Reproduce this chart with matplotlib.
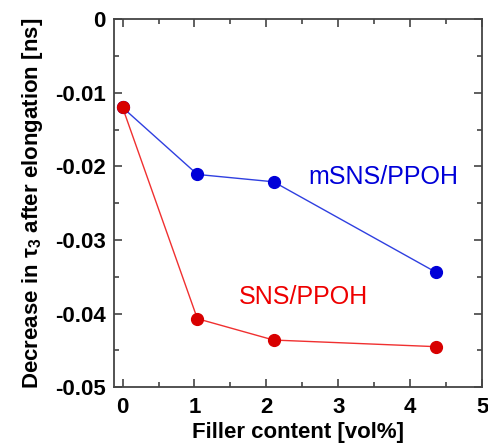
import matplotlib
matplotlib.use("Agg")
import matplotlib.pyplot as plt
from matplotlib.ticker import MultipleLocator, FuncFormatter

plt.rcParams['font.family'] = ['Liberation Sans', 'DejaVu Sans']
plt.rcParams['mathtext.fontset'] = 'custom'
plt.rcParams['mathtext.rm'] = 'Liberation Sans'
plt.rcParams['mathtext.bf'] = 'Liberation Sans:bold'

# data
filler = [0, 1.04, 2.1, 4.36]
msns = [-0.012, -0.0211, -0.0221, -0.0344]
sns = [-0.012, -0.0407, -0.0436, -0.0445]

fig = plt.figure(figsize=(4.89, 4.45), dpi=100)
ax = fig.add_axes([0.233, 0.130, 0.753, 0.827])

ax.plot(filler, msns, '-', color='#2f3fe0', lw=1.0, zorder=2)
ax.plot(filler, msns, 'o', color='#0000d8', ms=8.5, mec='#0000d8', zorder=3)
ax.plot(filler, sns, '-', color='#f03030', lw=1.0, zorder=2)
ax.plot(filler, sns, 'o', color='#d80000', ms=8.5, mec='#d80000', zorder=3)

ax.text(3.62, -0.0214, 'mSNS/PPOH', color='#0000d8', fontsize=18, ha='center', va='center')
ax.text(2.52, -0.0378, 'SNS/PPOH', color='#ee0000', fontsize=18, ha='center', va='center')

ax.set_xlim(-0.12, 5)
ax.set_ylim(-0.05, 0)
ax.xaxis.set_major_locator(MultipleLocator(1))
ax.xaxis.set_minor_locator(MultipleLocator(0.5))
ax.yaxis.set_major_locator(MultipleLocator(0.01))
ax.yaxis.set_minor_locator(MultipleLocator(0.005))
ax.yaxis.set_major_formatter(FuncFormatter(lambda v, p: '0' if abs(v) < 1e-9 else '%.2f' % v))

ax.tick_params(which='both', direction='in', top=True, right=True, color='#444444', width=1.2)
ax.tick_params(which='major', length=6, labelsize=16)
ax.tick_params(axis='y', which='major', pad=6)
ax.tick_params(axis='x', which='major', pad=7)
ax.tick_params(which='minor', length=3.5)
for lab in ax.get_xticklabels() + ax.get_yticklabels():
    lab.set_fontweight('bold')
for s in ax.spines.values():
    s.set_color('#444444')
    s.set_linewidth(1.3)

ax.set_xlabel('Filler content [vol%]', fontsize=16, fontweight='bold', labelpad=3)
ax.set_ylabel(r'Decrease in τ$_{\mathbf{3}}$ after elongation [ns]', fontsize=16, fontweight='bold', labelpad=7)

fig.savefig('out.png', dpi=100)
